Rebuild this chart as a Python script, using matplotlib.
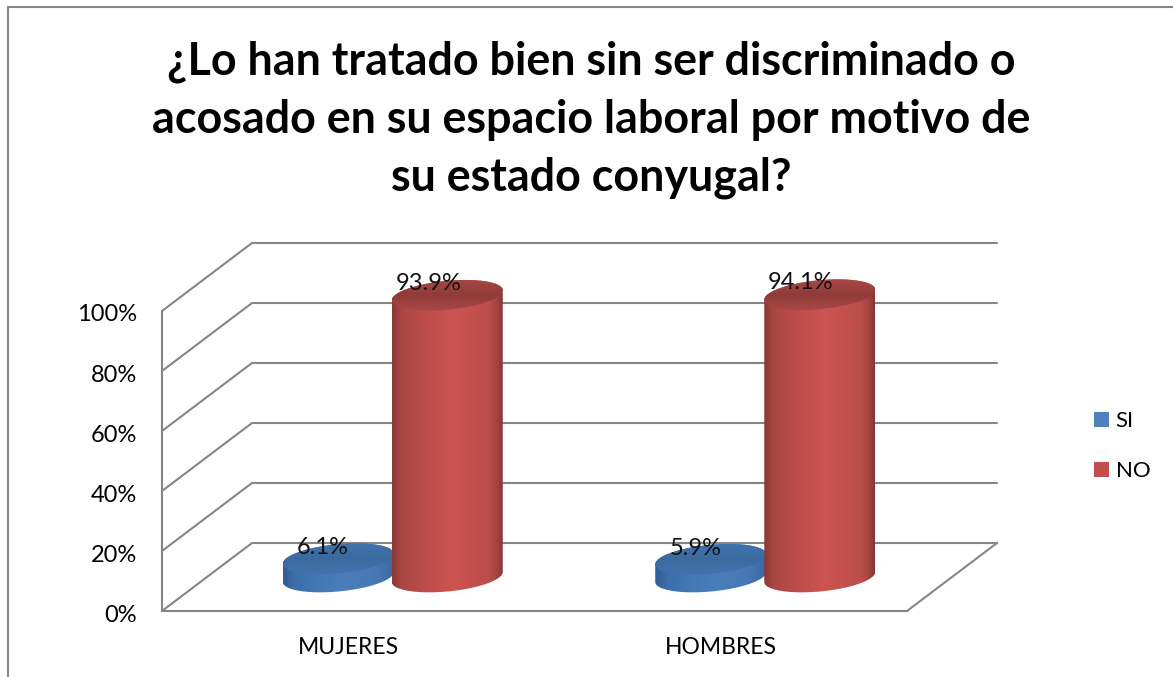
import numpy as np
import matplotlib
matplotlib.use('Agg')
import matplotlib.pyplot as plt
from matplotlib.path import Path
from matplotlib.patches import PathPatch, Patch, Rectangle
from matplotlib.colors import LinearSegmentedColormap
from matplotlib.transforms import ScaledTranslation

plt.rcParams['font.family'] = ['Lato', 'DejaVu Sans']

categories = ['MUJERES', 'HOMBRES']
si_values = [6.1, 5.9]
no_values = [93.9, 94.1]
si_labels = ['6.1%', '5.9%']
no_labels = ['93.9%', '94.1%']
y_ticks = [0, 20, 40, 60, 80, 100]
y_tick_labels = ['0%', '20%', '40%', '60%', '80%', '100%']
title = '¿Lo han tratado bien sin ser discriminado o\nacosado en su espacio laboral por motivo de\nsu estado conyugal?'

W, H = 1173, 677
fig = plt.figure(figsize=(W / 100, H / 100), dpi=100)
fig.patch.set_facecolor('white')

# plot box = front plane of the fake 3d chart
ax = fig.add_axes([162 / W, (H - 611) / H, 745 / W, 300 / H])
ax.set_xlim(-0.5, 1.5)
ax.set_ylim(0, 100)
ax.patch.set_alpha(0)

# size of one pixel in data units
px_x = 2 / 745
px_y = 100 / 300
depth_x = 90 * px_x
depth_y = 68 * px_y
grid_col = '#868686'

# gridlines go from the front plane up the side wall and along the back wall
for v in y_ticks:
    ax.plot([-0.5, -0.5 + depth_x, 1.5 + depth_x], [v, v + depth_y, v + depth_y],
            color=grid_col, lw=1.5, clip_on=False, zorder=1, solid_capstyle='round')
ax.plot([1.5, 1.5 + depth_x], [0, depth_y], color=grid_col, lw=1.5, clip_on=False, zorder=1)

for s in ['top', 'right']:
    ax.spines[s].set_visible(False)
for s in ['left', 'bottom']:
    ax.spines[s].set_color(grid_col)
    ax.spines[s].set_linewidth(1.5)

ax.set_xticks([0, 1])
ax.set_xticklabels(categories, fontsize=16.5)
ax.set_yticks(y_ticks)
ax.set_yticklabels(y_tick_labels, fontsize=17)
ax.tick_params(axis='both', length=0)
ax.tick_params(axis='x', pad=19)
ax.tick_params(axis='y', pad=18)
for lab in ax.get_yticklabels():
    lab.set_transform(lab.get_transform() + ScaledTranslation(0, -2 / 100, fig.dpi_scale_trans))

red_side = LinearSegmentedColormap.from_list('r', [(0, '#8a3836'), (0.08, '#a84644'), (0.3, '#bd4d4a'), (0.55, '#cd5451'),
                                                   (0.88, '#bb4d4a'), (0.96, '#a04240'), (1, '#853634')])
blue_side = LinearSegmentedColormap.from_list('b', [(0, '#2f5c92'), (0.1, '#3c6ea8'), (0.35, '#4579b6'), (0.55, '#4a7ebb'),
                                                    (0.85, '#4578b3'), (1, '#3a6aa2')])
red_top = LinearSegmentedColormap.from_list('rt', ['#ab4846', '#8f3b39', '#ab4846'])
blue_top = LinearSegmentedColormap.from_list('bt', ['#4273ae', '#3a6a9f', '#4273ae'])


def ring(cx, cy, t):
    a = 55.5 * px_x
    b = 14.5 * px_y
    return cx + a * np.cos(t), cy + b * np.sin(t) + 5 * px_y * np.cos(t)


def cylinder(x, value, side_cmap, top_cmap, z):
    cx = x + depth_x / 2
    base = depth_y / 2
    top = base + value
    t1 = np.linspace(np.pi, 2 * np.pi, 60)
    t2 = np.linspace(0, np.pi, 60)
    x1, y1 = ring(cx, base, t1)
    x2, y2 = ring(cx, top, t2)
    verts = np.column_stack([np.r_[x1, x2], np.r_[y1, y2]])
    body = PathPatch(Path(np.vstack([verts, verts[0]]), closed=True), transform=ax.transData,
                     fc='none', ec='none')
    ax.add_patch(body)
    a = 55.5 * px_x
    ext = [cx - a, cx + a, base - 20 * px_y, top + 20 * px_y]
    im = ax.imshow(np.linspace(0, 1, 128)[None, :], cmap=side_cmap, extent=ext, aspect='auto',
                   zorder=z, interpolation='bilinear')
    im.set_clip_path(body)
    im.set_clip_box(fig.bbox)

    tt = np.linspace(0, 2 * np.pi, 120)
    xt, yt = ring(cx, top, tt)
    cap = PathPatch(Path(np.column_stack([xt, yt]), closed=True), transform=ax.transData,
                    fc='none', ec='none')
    ax.add_patch(cap)
    im2 = ax.imshow(np.linspace(0, 1, 64)[:, None], cmap=top_cmap, extent=[cx - a, cx + a, top - 16 * px_y, top + 16 * px_y],
                    aspect='auto', zorder=z + 0.1, interpolation='bilinear')
    im2.set_clip_path(cap)
    im2.set_clip_box(fig.bbox)
    return cx, top


for i in range(len(categories)):
    cx, top = cylinder(i - 55 * px_x, si_values[i], blue_side, blue_top, 3)
    ax.annotate(si_labels[i], (cx, top), xytext=(-15 * 0.72, 11 * 0.72), textcoords='offset points',
                ha='center', va='center', fontsize=17, color='#111111', zorder=8, annotation_clip=False)
    cx, top = cylinder(i + 54 * px_x, no_values[i], red_side, red_top, 5)
    ax.annotate(no_labels[i], (cx, top), xytext=(-19 * 0.72, 12 * 0.72), textcoords='offset points',
                ha='center', va='center', fontsize=17, color='#111111', zorder=8, annotation_clip=False)

ax.set_xlim(-0.5, 1.5)
ax.set_ylim(0, 100)

fig.text(591 / W, 1 - 120 / H, title, ha='center', va='center', fontsize=32.3, fontweight='bold',
         linespacing=1.47, color='#000000')

handles = [Patch(fc='#4f81bd', ec='none', label='SI'), Patch(fc='#c0504d', ec='none', label='NO')]
fig.legend(handles=handles, loc='upper left', bbox_to_anchor=(1094 / W, 1 - 411 / H), frameon=False,
           borderpad=0, borderaxespad=0, fontsize=16, handlelength=0.68, handleheight=0.68,
           handletextpad=0.3, labelspacing=1.36)

# outer chart border, runs off the right and bottom of the picture
fig.add_artist(Rectangle((8 / W, -0.05), 1.1, 1.05 - 7 / H, transform=fig.transFigure,
                         fc='none', ec='#868686', lw=1.5))

fig.savefig('out.png', dpi=100)
